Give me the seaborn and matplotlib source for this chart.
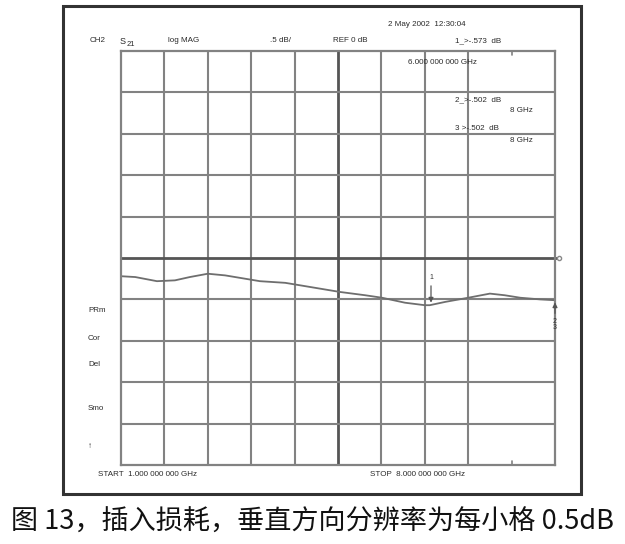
import matplotlib
matplotlib.use('Agg')
import matplotlib.pyplot as plt
import seaborn as sns
import pandas as pd
from matplotlib.patches import Rectangle

# trace (GHz, dB)
freq_ghz = [1.00, 1.23, 1.58, 1.87, 2.11, 2.40, 2.68, 3.00, 3.24, 3.65, 4.05, 4.53,
            4.94, 5.21, 5.58, 5.90, 5.98, 6.23, 6.60, 6.95, 7.19, 7.44, 7.76, 8.00]
s21_db = [-0.22, -0.23, -0.28, -0.27, -0.23, -0.19, -0.21, -0.25, -0.28, -0.30, -0.35, -0.41,
          -0.45, -0.48, -0.54, -0.57, -0.57, -0.53, -0.48, -0.43, -0.45, -0.48, -0.50, -0.51]

marker_freq = [6.0, 8.0]
marker_db = [-0.573, -0.502]
side_labels = ['PRm', 'Cor', 'Del', 'Smo', '\u2191']
caption = '图 13，插入损耗，垂直方向分辨率为每小格 0.5dB'

start_ghz, stop_ghz = 1.0, 8.0
ref_db, scale_db = 0.0, 0.5

df = pd.DataFrame({'freq': freq_ghz, 'db': s21_db})

sns.set_theme(style='white')
plt.rcParams['font.family'] = ['Liberation Sans', 'DejaVu Sans']

W, H = 625, 544
fig = plt.figure(figsize=(W / 100, H / 100), dpi=100)

def fx(px):
    return px / W

def fy(py):
    return 1 - py / H

# outer frame
fig.patches.append(Rectangle((fx(63), fy(494)), fx(581) - fx(63), fy(6) - fy(494),
                             transform=fig.transFigure, fill=False, lw=2.2, ec='#333333'))

ax = fig.add_axes([fx(121), fy(465), fx(555) - fx(121), fy(51) - fy(465)])
ax.set_xlim(start_ghz, stop_ghz)
ax.set_ylim(ref_db - 5 * scale_db, ref_db + 5 * scale_db)
for s in ax.spines.values():
    s.set_color('#828282')
    s.set_linewidth(1.6)
ax.set_xticks([])
ax.set_yticks([])

grid_c = '#828282'
step_x = (stop_ghz - start_ghz) / 10
for i in range(1, 10):
    xv = start_ghz + i * step_x
    if i == 9:
        # this graticule line is not drawn, only small ticks
        ax.plot([xv, xv], [2.5, 2.45], color=grid_c, lw=1.2)
        ax.plot([xv, xv], [-2.5, -2.45], color=grid_c, lw=1.2)
        continue
    ax.axvline(xv, color='#555555' if i == 5 else grid_c, lw=2.0 if i == 5 else 1.5)
for i in range(1, 10):
    yv = -2.5 + i * scale_db
    if i == 5:
        continue
    ax.axhline(yv, color=grid_c, lw=1.5)
# reference line
ax.plot([start_ghz, stop_ghz + 0.06], [ref_db, ref_db], color='#555555', lw=2.0, clip_on=False)
ax.plot([stop_ghz + 0.07], [ref_db], marker='o', ms=3, mfc='white', mec='#888888', clip_on=False)

sns.lineplot(data=df, x='freq', y='db', ax=ax, color='#6e6e6e', lw=1.3)
ax.set_xlabel('')
ax.set_ylabel('')

# markers
ax.annotate('', xy=(marker_freq[0], marker_db[0]), xytext=(marker_freq[0], marker_db[0] + 0.27),
            arrowprops=dict(arrowstyle='-|>', color='#555555', lw=0.9, mutation_scale=7))
ax.text(marker_freq[0], marker_db[0] + 0.29, '1', fontsize=5, ha='center', va='bottom', color='#333333')
ax.annotate('', xy=(marker_freq[1], marker_db[1]), xytext=(marker_freq[1], marker_db[1] - 0.2),
            arrowprops=dict(arrowstyle='-|>', color='#555555', lw=0.9, mutation_scale=7),
            annotation_clip=False)
ax.text(marker_freq[1], marker_db[1] - 0.22, '2\n3', fontsize=5, ha='center', va='top',
        color='#333333', linespacing=0.9)

tc = '#2a2a2a'
fs = 5.8
def ftext(px, py, s, **kw):
    kw.setdefault('fontsize', fs)
    kw.setdefault('color', tc)
    kw.setdefault('va', 'center')
    fig.text(fx(px), fy(py), s, **kw)

ftext(90, 41, 'CH2')
ftext(120, 41, 'S', fontsize=6.5)
ftext(127, 44, '21', fontsize=5.5)
ftext(168, 41, 'log MAG')
ftext(270, 41, '.5 dB/')
ftext(333, 41, 'REF 0 dB')
ftext(388, 25, '2 May 2002  12:30:04')
ftext(455, 41, '1_>-.573  dB')
ftext(408, 63, '6.000 000 000 GHz')
ftext(455, 100, '2_>-.502  dB')
ftext(510, 111, '8 GHz')
ftext(455, 129, '3 >-.502  dB')
ftext(510, 140, '8 GHz')

for lab, py in zip(side_labels, [311, 338, 364, 409, 446]):
    ftext(88, py, lab)

ftext(98, 474, 'START  1.000 000 000 GHz')
ftext(370, 474, 'STOP  %.3f 000 000 GHz' % stop_ghz)

fig.text(0.5, fy(522), caption, ha='center', va='center', fontsize=19.5, color='#111111',
         family=['Noto Sans CJK SC', 'DejaVu Sans'])

fig.savefig('out.png', dpi=100)
